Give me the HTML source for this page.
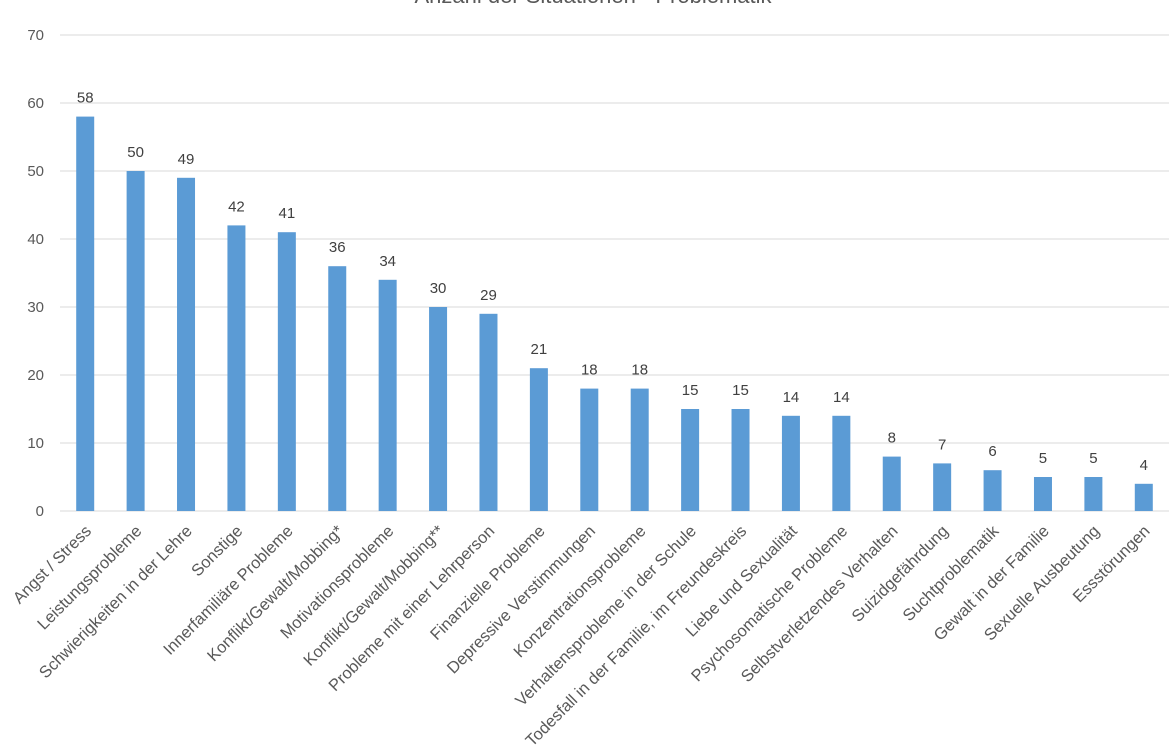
<!DOCTYPE html>
<html><head><meta charset="utf-8"><style>
body{margin:0;background:#fff;}
svg{display:block;font-family:"Liberation Sans",Calibri,sans-serif;}
</style></head><body>
<svg id="chart" width="1172" height="754" viewBox="0 0 1172 754">
<text x="593" y="3" text-anchor="middle" font-size="22" fill="#595959">Anzahl der Situationen - Problematik</text>
<g id="grid"></g><g id="bars"></g><g id="labels"></g>
</svg>
<script>
const categories=["Angst / Stress","Leistungsprobleme","Schwierigkeiten in der Lehre","Sonstige","Innerfamiliäre Probleme","Konflikt/Gewalt/Mobbing*","Motivationsprobleme","Konflikt/Gewalt/Mobbing**","Probleme mit einer Lehrperson","Finanzielle Probleme","Depressive Verstimmungen","Konzentrationsprobleme","Verhaltensprobleme in der Schule","Todesfall in der Familie, im Freundeskreis","Liebe und Sexualität","Psychosomatische Probleme","Selbstverletzendes Verhalten","Suizidgefährdung","Suchtproblematik","Gewalt in der Familie","Sexuelle Ausbeutung","Essstörungen"];
const values=[58,50,49,42,41,36,34,30,29,21,18,18,15,15,14,14,8,7,6,5,5,4];
const yTicks=[0,10,20,30,40,50,60,70];
const NS="http://www.w3.org/2000/svg";
const plotL=60,plotR=1169,plotT=35,plotB=511,yMax=70;
const band=(plotR-plotL)/categories.length;
const yScale=v=>plotB-(v/yMax)*(plotB-plotT);
const xc=i=>plotL+band*(i+0.5);
function mk(t,a,p){const e=document.createElementNS(NS,t);for(const k in a)e.setAttribute(k,a[k]);p.appendChild(e);return e;}
const grid=document.getElementById('grid'),bars=document.getElementById('bars'),labels=document.getElementById('labels');
yTicks.forEach(t=>{
 const l=mk('line',{x1:plotL,x2:plotR,y1:yScale(t),y2:yScale(t),stroke:"#d9d9d9","stroke-width":1},grid);
 
 
 const tx=mk('text',{x:44,y:yScale(t)+5,"text-anchor":"end","font-size":15,fill:"#595959"},grid);
 tx.textContent=t;
 
 
});
values.forEach((v,i)=>{
 const w=18;
 const r=mk('rect',{x:xc(i)-w/2,y:yScale(v),width:w,height:plotB-yScale(v),fill:"#5b9bd5"},bars);
 
 
 const t=mk('text',{x:xc(i),y:yScale(v)-14,"text-anchor":"middle","font-size":15,fill:"#404040"},labels);
 t.textContent=v;
 
 
 const c=mk('text',{x:0,y:0,"text-anchor":"end","font-size":16.5,fill:"#595959",transform:`translate(${xc(i)+7},${plotB+21}) rotate(-45)`},labels);
 c.textContent=categories[i];
 
 
});
</script>
</body></html>
